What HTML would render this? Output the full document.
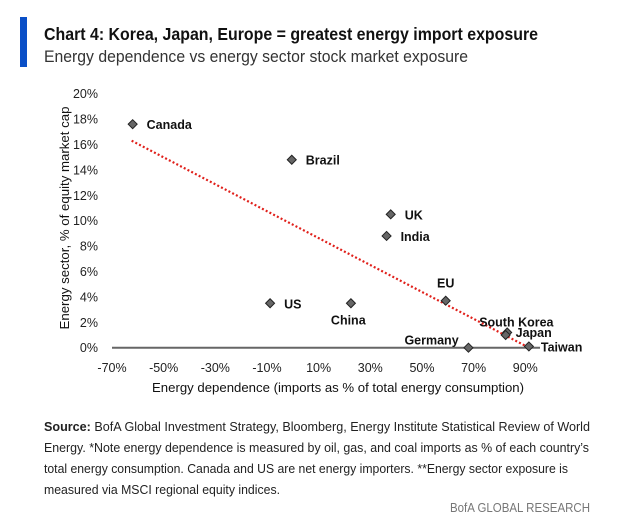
<!DOCTYPE html>
<html><head><meta charset="utf-8"><style>
html,body{margin:0;padding:0;background:#fff;}
svg{display:block;font-family:"Liberation Sans",sans-serif;}
</style></head><body>
<svg id="chart" width="624" height="524" viewBox="0 0 624 524">
  <rect x="20" y="17" width="7" height="50" fill="#0a4fc7"/>
  <text x="44" y="40" font-size="17.5" font-weight="bold" fill="#111" textLength="494" lengthAdjust="spacingAndGlyphs">Chart 4: Korea, Japan, Europe = greatest energy import exposure</text>
  <text x="44" y="62" font-size="16.5" fill="#333" textLength="424" lengthAdjust="spacingAndGlyphs">Energy dependence vs energy sector stock market exposure</text>
  <g id="plot"></g>
  <text transform="translate(69,218) rotate(-90)" text-anchor="middle" font-size="13" fill="#111" textLength="223" lengthAdjust="spacingAndGlyphs">Energy sector, % of equity market cap</text>
  <text x="338" y="392" text-anchor="middle" font-size="13" fill="#111" textLength="372" lengthAdjust="spacingAndGlyphs">Energy dependence (imports as % of total energy consumption)</text>
  <g font-size="13" fill="#222">
    <text x="44" y="431" textLength="546" lengthAdjust="spacingAndGlyphs"><tspan font-weight="bold">Source:</tspan> BofA Global Investment Strategy, Bloomberg, Energy Institute Statistical Review of World</text>
    <text x="44" y="452" textLength="545" lengthAdjust="spacingAndGlyphs">Energy. *Note energy dependence is measured by oil, gas, and coal imports as % of each country’s</text>
    <text x="44" y="473" textLength="524" lengthAdjust="spacingAndGlyphs">total energy consumption. Canada and US are net energy importers. **Energy sector exposure is</text>
    <text x="44" y="494" textLength="236" lengthAdjust="spacingAndGlyphs">measured via MSCI regional equity indices.</text>
  </g>
  <text x="590" y="512" text-anchor="end" font-size="13" fill="#777" textLength="140" lengthAdjust="spacingAndGlyphs">BofA GLOBAL RESEARCH</text>
</svg>
<script>
const countries = ["Canada","Brazil","UK","India","US","China","EU","South Korea","Japan","Germany","Taiwan"];
const dependence = [-62, -0.4, 37.9, 36.3, -8.8, 22.5, 59.2, 83, 82.4, 68, 91.4];
const equityShare = [17.6, 14.8, 10.5, 8.8, 3.5, 3.5, 3.7, 1.2, 1.0, 0, 0.1];
const yTicks = [0,2,4,6,8,10,12,14,16,18,20];
const xTicks = [-70,-50,-30,-10,10,30,50,70,90];
const trendX = [-62.4, 90.5];
const trendY = [16.3, 0.1];
const labelDx = [14, 14, 14, 14, 14, -20, 0, -28, 10, -64, 12];
const labelDy = [5, 5, 5, 5, 5, 21, -13, -6, 2, -3, 5];
const labelAnchor = ["start","start","start","start","start","start","middle","start","start","start","start"];

const NS = "http://www.w3.org/2000/svg";
const X0 = 112, XS = 2.583, Y0 = 347.7, YS = 12.7;
const xScale = v => X0 + (v + 70) * XS;
const yScale = v => Y0 - v * YS;
const plot = document.getElementById("plot");
function mk(tag, attrs){ const e = document.createElementNS(NS, tag); for (const k in attrs) e.setAttribute(k, attrs[k]); plot.appendChild(e); return e; }

yTicks.forEach(t => {
  const e = mk("text", {x: 98, y: yScale(t) + 4.5, "text-anchor": "end", "font-size": 12.5, fill: "#222"});
  e.textContent = t + "%";
  
  
});
xTicks.forEach(t => {
  const e = mk("text", {x: xScale(t), y: 372, "text-anchor": "middle", "font-size": 12.5, fill: "#222"});
  e.textContent = t + "%";
  
  
});
const ax = mk("line", {x1: xScale(-70), x2: 540, y1: yScale(0), y2: yScale(0), stroke: "#666", "stroke-width": 2});



const tl = mk("line", {x1: xScale(trendX[0]), y1: yScale(trendY[0]), x2: xScale(trendX[1]), y2: yScale(trendY[1]), stroke: "#e0201b", "stroke-width": 2.2, "stroke-dasharray": "2 2.2"});



countries.forEach((c, i) => {
  const x = xScale(dependence[i]), y = yScale(equityShare[i]);
  const p = mk("path", {d: `M${x} ${y-4.5}L${x+4.5} ${y}L${x} ${y+4.5}L${x-4.5} ${y}Z`, fill: "#666", stroke: "#222", "stroke-width": 1});
  
  
  const t = mk("text", {x: x + labelDx[i], y: y + labelDy[i], "text-anchor": labelAnchor[i], "font-size": 12.5, "font-weight": "bold", fill: "#111"});
  t.textContent = c;
  
  
});
</script>
</body></html>
